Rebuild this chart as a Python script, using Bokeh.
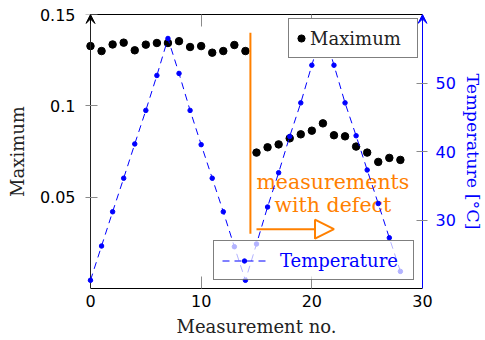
from bokeh.plotting import figure
from bokeh.models import (Range1d, LinearAxis, FixedTicker, Legend, LegendItem,
                          Arrow, NormalHead, VeeHead, CustomJSTickFormatter,
                          ColumnDataSource)
from bokeh.core.properties import value
from bokeh.embed import file_html
from bokeh.resources import INLINE

# Measurement series
measurement = list(range(29))
maximum = [0.1327, 0.1300, 0.1336, 0.1346, 0.1304, 0.1335, 0.1344, 0.1344,
           0.1354, 0.1322, 0.1327, 0.1291, 0.1300, 0.1333, 0.1300,
           0.0744, 0.0773, 0.0789, 0.0822, 0.0844, 0.0864, 0.0904,
           0.0839, 0.0833, 0.0777, 0.0744, 0.0693, 0.0715, 0.0704]
temperature = [21.2, 26.2, 31.2, 36.1, 41.1, 46.0, 51.1, 56.5,
               51.4, 46.0, 41.0, 36.1, 31.2, 26.1, 21.2,
               26.5, 31.9, 36.9, 42.2, 47.1, 52.6, 58.0,
               52.6, 47.1, 42.3, 37.3, 32.4, 27.4, 22.5]

x_ticks = [0, 10, 20, 30]
max_ticks = [0.05, 0.1, 0.15]
temp_ticks = [30, 40, 50]

X_MIN, X_MAX = 0, 30
MAX_MIN, MAX_MAX = 0, 0.15
T_MIN, T_MAX = 20, 60
PAD = 0.45  # room beside the axes so edge markers and arrow tips are not cut

# Defect annotation anchors (data units of the Maximum axis)
defect_x = 14.45
defect_top = 0.14
defect_bottom = 0.03
arrow_start = 15.0
arrow_end = 22.0
arrow_y = 0.0325
note_x = 21.9
note_y = 0.052
note_text = "measurements\nwith defect"

BLUE = "#0000ff"
ORANGE = "#ff8000"
TICK = "#8a8a8a"
SERIF = "DejaVu Serif"
SANS = "DejaVu Sans"
NO_LABEL = CustomJSTickFormatter(code="return ''")

src = ColumnDataSource(dict(measurement=measurement, maximum=maximum,
                            temperature=temperature))

p = figure(width=485, height=340, x_range=Range1d(X_MIN - PAD, X_MAX + PAD),
           y_range=Range1d(MAX_MIN, MAX_MAX),
           output_backend="svg", toolbar_location=None,
           min_border_left=85, min_border_right=56, min_border_top=14,
           min_border_bottom=52)
p.grid.visible = False
p.outline_line_color = None
p.extra_y_ranges = {"temp": Range1d(T_MIN, T_MAX)}

# bottom axis
xa = p.xaxis[0]
xa.bounds = (X_MIN, X_MAX)
xa.ticker = FixedTicker(ticks=x_ticks)
xa.major_tick_in = 12
xa.major_tick_out = 0
xa.major_tick_line_color = TICK
xa.minor_tick_line_color = None
xa.axis_line_color = "black"
xa.major_label_text_font = SANS
xa.major_label_text_font_size = "16px"
xa.major_label_text_color = "black"
xa.major_label_standoff = 6
xa.axis_label = "Measurement no."
xa.axis_label_text_font = SERIF
xa.axis_label_text_font_style = "normal"
xa.axis_label_text_font_size = "18px"
xa.axis_label_text_color = "#222222"
xa.axis_label_standoff = 6

# left axis: labels from the panel axis, line and ticks from an axis pinned at x = 0
ya = p.yaxis[0]
ya.ticker = FixedTicker(ticks=max_ticks)
ya.formatter = CustomJSTickFormatter(code="return tick.toString()")
ya.axis_line_color = None
ya.major_tick_line_color = None
ya.minor_tick_line_color = None
ya.major_tick_in = 0
ya.major_tick_out = 0
ya.major_label_text_font = SANS
ya.major_label_text_font_size = "16px"
ya.major_label_text_color = "black"
ya.major_label_standoff = 10
ya.axis_label = "Maximum"
ya.axis_label_text_font = SERIF
ya.axis_label_text_font_style = "normal"
ya.axis_label_text_font_size = "18px"
ya.axis_label_text_color = "#222222"
ya.axis_label_standoff = 9

left_line = LinearAxis(fixed_location=X_MIN, ticker=FixedTicker(ticks=max_ticks),
                       formatter=NO_LABEL, major_tick_in=7, major_tick_out=7,
                       major_tick_line_color=TICK, minor_tick_line_color=None,
                       axis_line_color="#222222")
p.add_layout(left_line, "left")

# top frame edge with inward ticks, no labels
top = LinearAxis(ticker=FixedTicker(ticks=[10, 20]), bounds=(X_MIN, X_MAX),
                 major_tick_in=12, major_tick_out=0,
                 major_tick_line_color=TICK, minor_tick_line_color=None,
                 axis_line_color="black", formatter=NO_LABEL,
                 major_label_standoff=0)
p.add_layout(top, "above")

# right temperature axis: labels in the panel, line and ticks pinned at x = 30
ra = LinearAxis(y_range_name="temp", ticker=FixedTicker(ticks=temp_ticks),
                major_tick_in=0, major_tick_out=0, major_tick_line_color=None,
                minor_tick_line_color=None, axis_line_color=None,
                major_label_text_font=SANS, major_label_text_font_size="16px",
                major_label_text_color=BLUE, major_label_standoff=8,
                axis_label="Temperature [°C]", axis_label_text_font=SERIF,
                axis_label_text_font_style="normal", axis_label_text_font_size="17.5px",
                axis_label_text_color=BLUE, axis_label_standoff=4)
p.add_layout(ra, "right")

right_line = LinearAxis(y_range_name="temp", fixed_location=X_MAX,
                        ticker=FixedTicker(ticks=temp_ticks), formatter=NO_LABEL,
                        major_tick_in=6, major_tick_out=6, major_tick_line_color=TICK,
                        minor_tick_line_color=None, axis_line_color=BLUE)
p.add_layout(right_line, "right")

# axis arrow tips
p.add_layout(Arrow(end=VeeHead(size=9, fill_color="black", line_color="black",
                               line_width=1),
                   x_start=X_MIN, y_start=0.145, x_end=X_MIN, y_end=MAX_MAX,
                   line_color="black", line_width=1))
p.add_layout(Arrow(end=VeeHead(size=9, fill_color=BLUE, line_color=BLUE, line_width=1),
                   x_start=X_MAX, y_start=58, x_end=X_MAX, y_end=T_MAX,
                   y_range_name="temp", line_color=BLUE, line_width=1))

# series
max_r = p.scatter("measurement", "maximum", source=src, size=7.5,
                  color="black")

# defect marker: vertical bar, arrow and note
p.segment(x0=[defect_x], y0=[defect_bottom], x1=[defect_x], y1=[defect_top],
          line_color=ORANGE, line_width=2)
p.add_layout(Arrow(end=NormalHead(size=19, fill_color="white", line_color=ORANGE,
                                  line_width=2),
                   x_start=arrow_start, y_start=arrow_y, x_end=arrow_end, y_end=arrow_y,
                   line_color=ORANGE, line_width=2))
p.text(x=[note_x], y=[note_y], text=[note_text], text_align="center",
       text_baseline="middle", text_font=value(SERIF), text_font_size="20.5px",
       text_color=ORANGE, text_line_height=0.95)

temp_line = p.line("measurement", "temperature", source=src, y_range_name="temp",
                   line_color=BLUE, line_width=1, line_dash="7 5", level="overlay")
temp_pts = p.scatter("measurement", "temperature", source=src, y_range_name="temp",
                     size=4.5, color=BLUE, level="overlay")

leg_max = Legend(items=[LegendItem(label="Maximum", renderers=[max_r])],
                 location=(203, 230), margin=0, padding=3, spacing=0,
                 glyph_width=18, glyph_height=18, label_height=32, label_width=104,
                 label_standoff=0, border_line_color="black", border_line_width=1,
                 background_fill_color="white", background_fill_alpha=1,
                 label_text_font=SERIF, label_text_font_size="18px",
                 label_text_color="#222222")
p.add_layout(leg_max, "center")

leg_temp = Legend(items=[LegendItem(label="Temperature", renderers=[temp_line, temp_pts])],
                  location=(128, 8), margin=0, padding=8, spacing=0,
                  glyph_width=44, glyph_height=11, label_height=22, label_width=125,
                  label_standoff=14, border_line_color="black", border_line_width=1,
                  background_fill_color="white", background_fill_alpha=0.7,
                  label_text_font=SERIF, label_text_font_size="18px",
                  label_text_color=BLUE, level="overlay")
p.add_layout(leg_temp, "center")

open("out.html", "w").write(file_html(p, INLINE))
